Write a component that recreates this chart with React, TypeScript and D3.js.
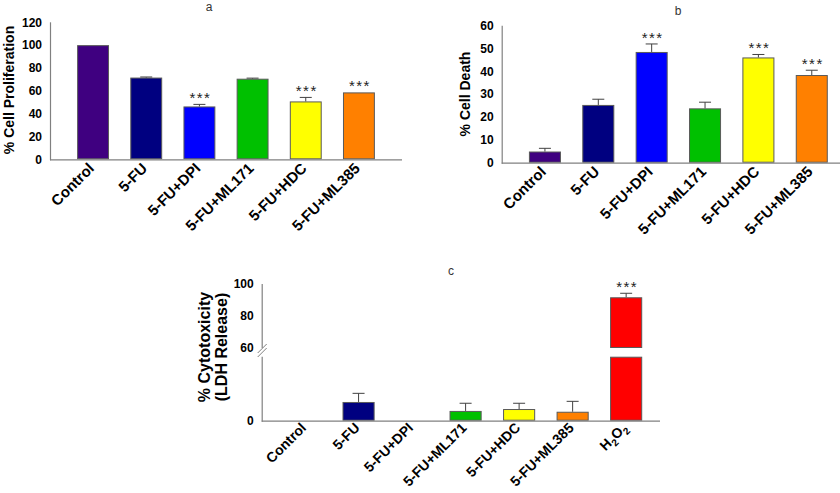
import React from "react";
import * as d3 from "d3";

// treatment groups
const groups = ["Control", "5-FU", "5-FU+DPI", "5-FU+ML171", "5-FU+HDC", "5-FU+ML385"];
const groupsC = [...groups, "H2O2"];
const barColors = ["#3f0080", "#000080", "#0000ff", "#00c000", "#ffff00", "#ff8000", "#ff0000"];

// panel a: % cell proliferation
const prolif = [100, 71.6, 46.3, 70.6, 50.7, 58.6];
const prolifErr = [0, 0.5, 1.8, 0.5, 3.5, 0];
const prolifSig = [false, false, true, false, true, true];
const prolifTicks = [0, 20, 40, 60, 80, 100, 120];

// panel b: % cell death
const death = [4.9, 25.3, 48.5, 23.8, 46.1, 38.4];
const deathErr = [1.4, 2.5, 3.5, 2.7, 1.3, 2.1];
const deathSig = [false, false, true, false, true, true];
const deathTicks = [0, 10, 20, 30, 40, 50, 60];

// panel c: % cytotoxicity (LDH release), broken y axis
const cyto = [0, 11.7, 0, 6.1, 7.3, 5.6, 91.7];
const cytoErr = [0, 5.4, 0, 4.8, 3.6, 6.5, 2.5];
const cytoSig = [false, false, false, false, false, false, true];
const cytoLowTicks = [0];
const cytoHighTicks = [60, 80, 100];

const FONT = "'Liberation Sans', Arial, Helvetica, sans-serif";
const AXIS = "#808080";
const EDGE = "#5a5a5a";
const ERR = "#404040";

type Seg = { y: d3.ScaleLinear<number, number>; lo: number; hi: number };

const XLabel = ({ x, y, label, size }: { x: number; y: number; label: string; size: number }) => {
  const isH2O2 = label === "H2O2";
  return (
    <text
      transform={`translate(${x},${y}) rotate(-45)`}
      textAnchor="end"
      fontSize={size}
      fontWeight="bold"
      fontFamily={FONT}
      fill="#000"
    >
      {isH2O2 ? (
        <>
          H<tspan fontSize={10} dy={4}>2</tspan>
          <tspan dy={-4}>O</tspan>
          <tspan fontSize={10} dy={4}>2</tspan>
        </>
      ) : (
        label
      )}
    </text>
  );
};

const Panel = (props: {
  cats: string[];
  values: number[];
  errs: number[];
  sig: boolean[];
  segs: { seg: Seg; ticks: number[] }[];
  xRange: [number, number];
  axisEnd: number;
  labelSize: number;
  labelDy: number;
  title: string;
  titleX: number;
  titleY: number;
  yTitle: string[];
  yTitleX: number;
  yTitleY: number;
  yTitleSize: number;
}) => {
  const x = d3
    .scaleBand<string>()
    .domain(props.cats)
    .range(props.xRange)
    .paddingInner(0.4)
    .paddingOuter(0.51);
  const x0 = props.xRange[0];
  const base = props.segs[0].seg;
  const axisY = base.y(0);
  const top = props.segs[props.segs.length - 1].seg;
  const topY = (v: number) => {
    // map value onto the segment it falls in
    for (let i = props.segs.length - 1; i >= 0; i--) {
      const s = props.segs[i].seg;
      if (v >= s.lo) return s.y(Math.min(v, s.hi));
    }
    return base.y(v);
  };
  const broken = props.segs.length > 1;

  return (
    <g>
      <text x={props.titleX} y={props.titleY} fontSize={12} fontFamily={FONT} fill="#333" textAnchor="middle">
        {props.title}
      </text>

      {/* bars */}
      {props.values.map((v, i) => {
        const cat = props.cats[i];
        const bx = x(cat)!;
        const w = x.bandwidth();
        if (v <= 0) return null;
        const parts = props.segs
          .filter((s) => v >= s.seg.lo)
          .map((s, k) => {
            const y1 = s.seg.y(s.seg.lo);
            const y2 = s.seg.y(Math.min(v, s.seg.hi));
            return (
              <rect
                key={k}
                x={bx + 0.5}
                y={y2 + 0.5}
                width={w - 1}
                height={Math.max(0, y1 - y2 - 1)}
                fill={barColors[i]}
                stroke={EDGE}
                strokeWidth={1}
              />
            );
          });
        return <g key={cat}>{parts}</g>;
      })}

      {/* error bars and significance */}
      {props.values.map((v, i) => {
        const cat = props.cats[i];
        const cx = x(cat)! + x.bandwidth() / 2;
        const yv = topY(v);
        const ye = topY(v + props.errs[i]);
        return (
          <g key={"e" + cat}>
            {props.errs[i] > 0 && v > 0 && (
              <>
                <line x1={cx} x2={cx} y1={yv} y2={ye} stroke={ERR} strokeWidth={1} />
                <line x1={cx - 6} x2={cx + 6} y1={ye} y2={ye} stroke={ERR} strokeWidth={1} />
              </>
            )}
            {props.sig[i] && (
              <text
                x={cx + 1}
                y={ye - 1}
                textAnchor="middle"
                fontSize={15}
                fontFamily={FONT}
                fill="#222"
                letterSpacing={1.5}
              >
                ***
              </text>
            )}
          </g>
        );
      })}

      {/* x axis */}
      <line x1={x0} x2={props.axisEnd} y1={axisY + 0.5} y2={axisY + 0.5} stroke={AXIS} strokeWidth={1.2} />
      {props.cats.map((c) => (
        <XLabel
          key={"l" + c}
          x={x(c)! + x.bandwidth() / 2 + 2}
          y={axisY + props.labelDy}
          label={c}
          size={props.labelSize}
        />
      ))}

      {/* y axis, possibly in segments */}
      {props.segs.map((s, k) => (
        <g key={"ya" + k}>
          <line
            x1={x0 + 0.5}
            x2={x0 + 0.5}
            y1={s.seg.y(s.seg.hi)}
            y2={s.seg.y(s.seg.lo) + (k === 0 ? 1 : 0)}
            stroke={AXIS}
            strokeWidth={1.2}
          />
          {s.ticks.map((t) => (
            <text
              key={t}
              x={x0 - 8}
              y={s.seg.y(t)}
              dy="0.35em"
              textAnchor="end"
              fontSize={12}
              fontWeight="bold"
              fontFamily={FONT}
              fill="#000"
            >
              {t}
            </text>
          ))}
        </g>
      ))}
      {broken &&
        [0, 4].map((o) => (
          <line
            key={"br" + o}
            x1={x0 - 4}
            x2={x0 + 5}
            y1={top.y(top.lo) + 9 + o - 4}
            y2={top.y(top.lo) + o - 4}
            stroke={AXIS}
            strokeWidth={1}
          />
        ))}

      {/* y title */}
      <text
        transform={`translate(${props.yTitleX},${props.yTitleY}) rotate(-90)`}
        textAnchor="middle"
        fontSize={props.yTitleSize}
        fontWeight="bold"
        fontFamily={FONT}
        fill="#000"
      >
        {props.yTitle.map((t, k) => (
          <tspan key={k} x={0} dy={k === 0 ? 0 : props.yTitleSize + 1}>
            {t}
          </tspan>
        ))}
      </text>
    </g>
  );
};

const App = () => {
  const yA: Seg = { y: d3.scaleLinear().domain([0, 120]).range([159.3, 22.3]), lo: 0, hi: 120 };
  const yB: Seg = { y: d3.scaleLinear().domain([0, 60]).range([162.7, 25.7]), lo: 0, hi: 60 };
  const yCLow: Seg = { y: d3.scaleLinear().domain([0, 40]).range([420.7, 356.7]), lo: 0, hi: 40 };
  const yCHigh: Seg = { y: d3.scaleLinear().domain([60, 100]).range([348, 284]), lo: 60, hi: 100 };

  return (
    <svg
      width={840}
      height={493}
      style={{ position: "absolute", left: 0, top: 0, background: "#fff" }}
    >
      <rect width={840} height={493} fill="#fff" />
      <Panel
        cats={groups}
        values={prolif}
        errs={prolifErr}
        sig={prolifSig}
        segs={[{ seg: yA, ticks: prolifTicks }]}
        xRange={[50, 402]}
        axisEnd={402}
        labelSize={15}
        labelDy={10}
        title="a"
        titleX={209}
        titleY={11}
        yTitle={["% Cell Proliferation"]}
        yTitleX={14}
        yTitleY={90}
        yTitleSize={14}
      />
      <Panel
        cats={groups}
        values={death}
        errs={deathErr}
        sig={deathSig}
        segs={[{ seg: yB, ticks: deathTicks }]}
        xRange={[501.7, 855]}
        axisEnd={840}
        labelSize={15}
        labelDy={10}
        title="b"
        titleX={678}
        titleY={15}
        yTitle={["% Cell Death"]}
        yTitleX={470}
        yTitleY={94}
        yTitleSize={14}
      />
      <Panel
        cats={groupsC}
        values={cyto}
        errs={cytoErr}
        sig={cytoSig}
        segs={[
          { seg: yCLow, ticks: cytoLowTicks },
          { seg: yCHigh, ticks: cytoHighTicks },
        ]}
        xRange={[261.7, 669.5]}
        axisEnd={660}
        labelSize={14}
        labelDy={8}
        title="c"
        titleX={451}
        titleY={275}
        yTitle={["% Cytotoxicity", "(LDH Release)"]}
        yTitleX={210}
        yTitleY={347}
        yTitleSize={16}
      />
    </svg>
  );
};

export default App;
